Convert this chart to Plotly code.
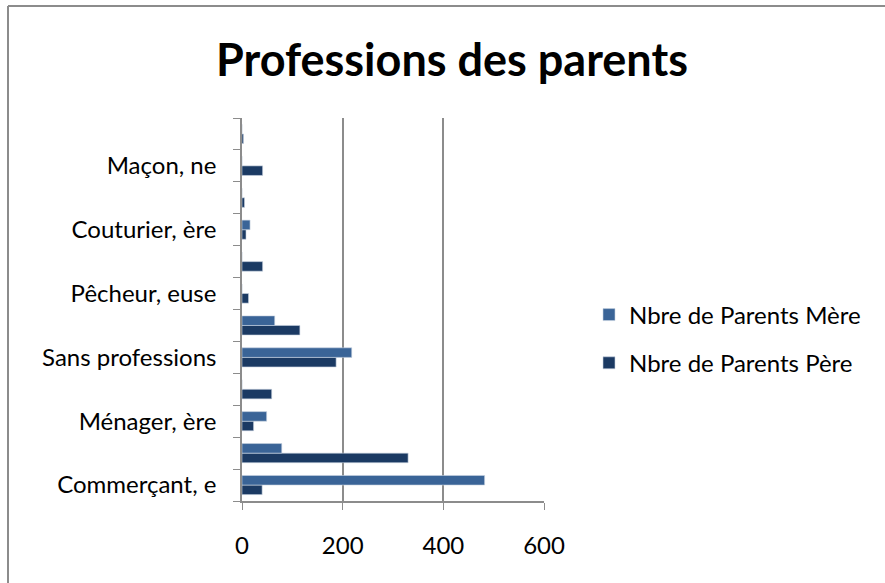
import plotly.graph_objects as go

# categories from bottom to top (only every other one is labelled on the chart)
categories = ["Commerçant, e", "Cultivateur, trice", "Ménager, ère", "Enseignant, e",
              "Sans professions", "Fonctionnaire", "Pêcheur, euse", "Chauffeur",
              "Couturier, ère", "Coiffeur, euse", "Maçon, ne", "Mécanicien, ne"]
labels = ["Commerçant, e", "", "Ménager, ère", "", "Sans professions", "",
          "Pêcheur, euse", "", "Couturier, ère", "", "Maçon, ne", ""]
mere = [482, 79, 49, 0, 218, 65, 0, 0, 16, 0, 0, 0]
pere = [40, 330, 23, 59, 187, 115, 13, 41, 8, 5, 41, 3]

FONT = "Lato, 'Open Sans', sans-serif"
L, R, T, B = 242, 341, 118, 82
W, H = 885, 583
pw, ph = W - L - R, H - T - B

fig = go.Figure()
fig.add_trace(go.Bar(y=categories, x=pere, orientation="h", name="Nbre de Parents Père",
                     marker=dict(color="#1b3a63", line=dict(color="#c9d3e0", width=0.6)),
                     legendgroup="p", legendrank=2))
fig.add_trace(go.Bar(y=categories, x=mere, orientation="h", name="Nbre de Parents Mère",
                     marker=dict(color="#3a6497", line=dict(color="#c9d3e0", width=0.6)),
                     legendgroup="m", legendrank=1))

fig.update_layout(
    width=W, height=H,
    margin=dict(l=L, r=R, t=T, b=B),
    paper_bgcolor="white", plot_bgcolor="white",
    barmode="group", bargap=0.4, bargroupgap=0,
    font=dict(family=FONT, size=24, color="#000"),
    title=dict(text="<b>Professions des parents</b>", x=452 / W, xanchor="center",
               y=1 - 60 / H, yanchor="middle",
               font=dict(family=FONT, size=45, color="#000")),
    legend=dict(x=(589 - L) / pw, xanchor="left", y=(H - B - 339) / ph,
                yanchor="middle", traceorder="grouped", tracegroupgap=14,
                font=dict(size=24), bgcolor="rgba(0,0,0,0)"),
    xaxis=dict(range=[0, 600], tickvals=[0, 200, 400, 600], showgrid=True,
               gridcolor="#8c8c8c", gridwidth=1.5, showline=True, linecolor="#8c8c8c",
               linewidth=1.5, ticks="outside", ticklen=7, tickcolor="#8c8c8c",
               zeroline=False, ticklabelstandoff=15, fixedrange=True),
    yaxis=dict(type="category", tickvals=categories, ticktext=labels, tickson="boundaries",
               showline=True, linecolor="#8c8c8c", linewidth=1.5, ticks="outside",
               ticklen=7, tickcolor="#8c8c8c", showgrid=False, ticklabelstandoff=19,
               fixedrange=True),
    showlegend=True,
)

# chart-area border (left and top edges)
fig.add_shape(type="line", xref="paper", yref="paper",
              x0=(8 - L) / pw, x1=(8 - L) / pw, y0=(B - H) / ph - 0.1, y1=(H - 6 - B) / ph,
              line=dict(color="#8c8c8c", width=2))
fig.add_shape(type="line", xref="paper", yref="paper",
              x0=(8 - L) / pw, x1=(W + 5 - L) / pw, y0=(H - 6 - B) / ph, y1=(H - 6 - B) / ph,
              line=dict(color="#8c8c8c", width=2))

fig.write_html("out.html", config={"displayModeBar": False},
               post_script="document.body.style.margin='0';")
